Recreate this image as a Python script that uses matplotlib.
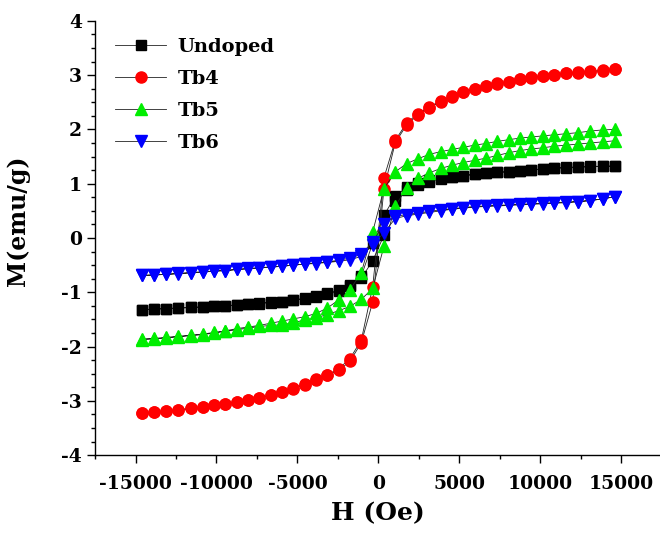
import matplotlib
matplotlib.use('Agg')
import matplotlib.pyplot as plt
from matplotlib.ticker import MultipleLocator

# field values, sweep down from +H and back up
H_down = [14600, 13850, 13100, 12350, 11600, 10850, 10150, 9450, 8750, 8050, 7350,
          6650, 5950, 5250, 4550, 3850, 3150, 2450, 1750, 1050, 350,
          -350, -1050, -1750, -2450, -3150, -3850, -4550, -5250, -5950, -6650,
          -7350, -8050, -8750, -9450, -10150, -10850, -11600, -12350, -13100, -13850, -14600]
H_up = H_down[::-1]

# Undoped
undoped_down = [1.33, 1.32, 1.32, 1.31, 1.30, 1.29, 1.27, 1.26, 1.24, 1.22, 1.21,
                1.19, 1.17, 1.15, 1.13, 1.10, 1.06, 1.01, 0.93, 0.77, 0.42,
                -0.10, -0.70, -0.86, -0.96, -1.02, -1.07, -1.11, -1.14, -1.17, -1.18,
                -1.20, -1.22, -1.23, -1.25, -1.26, -1.27, -1.28, -1.29, -1.30, -1.31, -1.32]
undoped_up = [-1.32, -1.31, -1.30, -1.29, -1.28, -1.27, -1.26, -1.25, -1.24, -1.22, -1.21,
              -1.19, -1.17, -1.15, -1.12, -1.08, -1.04, -0.98, -0.89, -0.74, -0.42,
              0.05, 0.68, 0.88, 0.98, 1.04, 1.09, 1.12, 1.15, 1.17, 1.19,
              1.21, 1.22, 1.24, 1.25, 1.27, 1.28, 1.29, 1.30, 1.31, 1.32, 1.32]

# Tb4
tb4_down = [3.11, 3.07, 3.05, 3.04, 3.03, 3.01, 2.98, 2.96, 2.92, 2.88, 2.85,
            2.80, 2.75, 2.69, 2.62, 2.52, 2.42, 2.29, 2.12, 1.80, 1.11,
            -0.90, -1.88, -2.22, -2.41, -2.52, -2.59, -2.68, -2.77, -2.83, -2.89,
            -2.95, -2.99, -3.02, -3.05, -3.08, -3.12, -3.14, -3.17, -3.19, -3.21, -3.23]
tb4_up = [-3.23, -3.21, -3.19, -3.16, -3.14, -3.11, -3.08, -3.05, -3.02, -2.98, -2.94,
          -2.90, -2.84, -2.78, -2.70, -2.61, -2.53, -2.44, -2.27, -1.93, -1.18,
          0.91, 1.76, 2.08, 2.27, 2.40, 2.51, 2.60, 2.68, 2.74, 2.79,
          2.84, 2.88, 2.92, 2.95, 2.98, 3.00, 3.03, 3.05, 3.07, 3.09, 3.12]

# Tb5
tb5_down = [2.00, 1.99, 1.97, 1.94, 1.92, 1.90, 1.88, 1.86, 1.84, 1.81, 1.78,
            1.74, 1.71, 1.67, 1.63, 1.59, 1.54, 1.46, 1.37, 1.22, 0.91,
            0.11, -0.64, -0.95, -1.14, -1.29, -1.39, -1.45, -1.49, -1.53, -1.57,
            -1.61, -1.64, -1.67, -1.71, -1.74, -1.77, -1.79, -1.81, -1.83, -1.85, -1.86]
tb5_up = [-1.87, -1.86, -1.84, -1.82, -1.80, -1.78, -1.75, -1.72, -1.69, -1.66, -1.63,
          -1.61, -1.60, -1.56, -1.51, -1.47, -1.41, -1.34, -1.26, -1.13, -0.93,
          -0.15, 0.59, 0.92, 1.10, 1.20, 1.28, 1.34, 1.39, 1.43, 1.47,
          1.52, 1.57, 1.61, 1.64, 1.66, 1.69, 1.71, 1.73, 1.75, 1.77, 1.79]

# Tb6
tb6_down = [0.76, 0.72, 0.69, 0.67, 0.66, 0.65, 0.64, 0.63, 0.62, 0.61, 0.60,
            0.59, 0.58, 0.56, 0.54, 0.52, 0.49, 0.46, 0.43, 0.40, 0.26,
            -0.07, -0.30, -0.37, -0.41, -0.44, -0.46, -0.48, -0.50, -0.52, -0.53,
            -0.55, -0.56, -0.58, -0.60, -0.61, -0.62, -0.64, -0.65, -0.67, -0.68, -0.69]
tb6_up = [-0.69, -0.68, -0.67, -0.66, -0.64, -0.63, -0.61, -0.60, -0.58, -0.57, -0.55,
          -0.54, -0.52, -0.50, -0.48, -0.47, -0.45, -0.43, -0.40, -0.34, -0.13,
          0.10, 0.36, 0.41, 0.44, 0.47, 0.50, 0.53, 0.55, 0.57, 0.58,
          0.59, 0.60, 0.61, 0.62, 0.63, 0.64, 0.65, 0.67, 0.69, 0.72, 0.76]

labels = ['Undoped', 'Tb4', 'Tb5', 'Tb6']
colors = ['black', '#ff0000', '#00ee00', '#0000ff']
markers = ['s', 'o', '^', 'v']
sizes = [6.5, 8, 8.5, 8.5]
series = [(undoped_down, undoped_up), (tb4_down, tb4_up), (tb5_down, tb5_up), (tb6_down, tb6_up)]

plt.rcParams['font.family'] = 'DejaVu Serif'
plt.rcParams['font.weight'] = 'bold'
plt.rcParams['axes.unicode_minus'] = False

fig = plt.figure(figsize=(6.6, 5.33), dpi=100)
ax = fig.add_axes([0.144, 0.146, 0.856, 0.815])

for (down, up), lab, c, mk, ms in zip(series, labels, colors, markers, sizes):
    ax.plot(H_down + H_up, down + up, color='#222222', lw=0.6, marker=mk, ms=ms,
            mfc=c, mec=c, label=lab)

ax.set_xlim(-17500, 17400)
ax.set_ylim(-4, 4)
ax.xaxis.set_major_locator(MultipleLocator(5000))
ax.xaxis.set_minor_locator(MultipleLocator(2500))
ax.yaxis.set_major_locator(MultipleLocator(1))
ax.yaxis.set_minor_locator(MultipleLocator(0.25))
ax.spines['top'].set_visible(False)
ax.spines['right'].set_visible(False)
for s in ['left', 'bottom']:
    ax.spines[s].set_linewidth(1.0)
ax.tick_params(which='major', direction='out', length=6, width=1, labelsize=13.5)
ax.tick_params(axis='x', which='major', pad=8)
ax.tick_params(which='minor', direction='out', length=3, width=1)
for t in ax.get_xticklabels() + ax.get_yticklabels():
    t.set_fontweight('bold')

ax.set_xlabel('H (Oe)', fontsize=18, fontweight='bold', labelpad=6)
ax.set_ylabel('M(emu/g)', fontsize=17, fontweight='bold')
ax.yaxis.set_label_coords(-0.115, 0.54)

leg = ax.legend(loc='upper left', bbox_to_anchor=(0.005, 1.0), frameon=False,
                prop={'family': 'DejaVu Serif', 'weight': 'bold', 'size': 14},
                handlelength=2.6, labelspacing=0.72, handletextpad=0.6)

fig.savefig('out.png', dpi=100)
